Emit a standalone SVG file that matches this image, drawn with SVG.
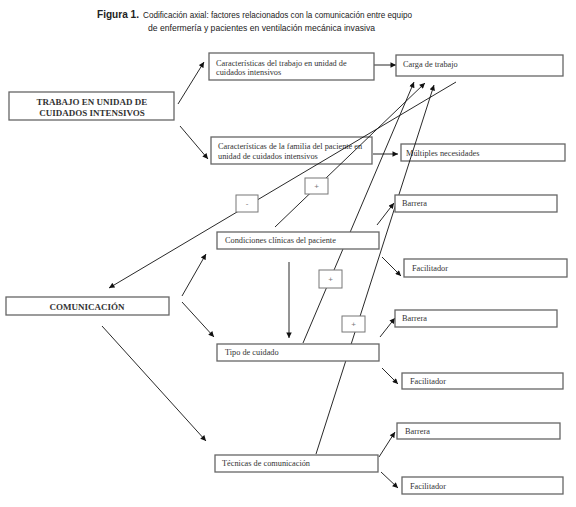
<svg xmlns="http://www.w3.org/2000/svg" width="576" height="507" viewBox="0 0 576 507">
<style>
.bx{fill:#fff;stroke:#666;stroke-width:1.3}
.bt{fill:none;stroke:#666;stroke-width:1.3}
.sg{fill:#fff;stroke:#777;stroke-width:1}
.t{font-family:"Liberation Serif","Times New Roman",serif;font-size:8.3px;fill:#333}
.tb{font-family:"Liberation Serif","Times New Roman",serif;font-size:9px;font-weight:bold;fill:#333;text-anchor:middle}
.sgt{font-family:"Liberation Sans",Arial,sans-serif;font-size:8px;fill:#777;text-anchor:middle}
.ttl{font-family:"Liberation Sans",Arial,sans-serif;fill:#222}
.ln{fill:none;stroke:#111;stroke-width:0.9}
.ar{fill:none;stroke:#111;stroke-width:0.9;marker-end:url(#ah)}
</style>
<defs>
<marker id="ah" viewBox="0 0 10 10" refX="10" refY="5" markerWidth="7" markerHeight="5.5" orient="auto" markerUnits="userSpaceOnUse">
<path d="M0,0 L10,5 L0,10 z" fill="#111"/>
</marker>
</defs>
<rect width="576" height="507" fill="#fff"/>
<g id="title" class="ttl">
<text x="97" y="18" font-size="10.5" font-weight="bold" textLength="42" lengthAdjust="spacingAndGlyphs">Figura 1.</text>
<text x="143" y="18" font-size="9" textLength="269" lengthAdjust="spacingAndGlyphs">Codificación axial: factores relacionados con la comunicación entre equipo</text>
<text x="148" y="31" font-size="9" textLength="227" lengthAdjust="spacingAndGlyphs">de enfermería y pacientes en ventilación mecánica invasiva</text>
</g>
<g id="n-familia">
<rect class="bt" x="211" y="137" width="161" height="27"/>
<text class="t" x="218" y="149">Características de la familia del paciente en</text>
<text class="t" x="218" y="158.5">unidad de cuidados intensivos</text>
</g>
<g id="n-multiples">
<rect class="bt" x="401" y="144" width="164" height="17"/>
<text class="t" x="406" y="156">Múltiples necesidades</text>
</g>
<g id="connectors">
<line class="ar" x1="178" y1="104" x2="204" y2="62"/>
<line class="ar" x1="180" y1="126" x2="208" y2="159"/>
<line class="ar" x1="374" y1="65" x2="396" y2="65"/>
<line class="ar" x1="373" y1="154" x2="398" y2="154"/>
<line class="ar" x1="456" y1="82" x2="109" y2="288"/>
<line class="ar" x1="275" y1="227" x2="425" y2="83"/>
<line class="ar" x1="303" y1="343" x2="414" y2="82"/>
<line class="ar" x1="316" y1="454" x2="434" y2="85"/>
<line class="ar" x1="289" y1="262" x2="289" y2="338"/>
<line class="ar" x1="182" y1="296" x2="206" y2="254"/>
<line class="ar" x1="182" y1="302" x2="214" y2="337"/>
<line class="ar" x1="102" y1="326" x2="206" y2="441"/>
<line class="ar" x1="377" y1="225" x2="394" y2="203"/>
<line class="ar" x1="382" y1="257" x2="401" y2="276"/>
<line class="ar" x1="380" y1="337" x2="395" y2="318"/>
<line class="ar" x1="382" y1="368" x2="398" y2="384"/>
<line class="ar" x1="379" y1="457" x2="395" y2="432"/>
<line class="ar" x1="381" y1="472" x2="398" y2="488"/>
</g>
<g id="n-trabajo-uci">
<rect class="bx" x="9" y="92" width="165" height="28"/>
<text class="tb" x="92" y="105">TRABAJO EN UNIDAD DE</text>
<text class="tb" x="92" y="116">CUIDADOS INTENSIVOS</text>
</g>
<g id="n-carac-trabajo">
<rect class="bx" x="209" y="53" width="165" height="27"/>
<text class="t" x="216" y="65.5">Características del trabajo en unidad de</text>
<text class="t" x="216" y="75">cuidados intensivos</text>
</g>
<g id="n-carga">
<rect class="bx" x="396" y="55" width="167" height="21"/>
<text class="t" x="403" y="67">Carga de trabajo</text>
</g>
<g id="n-comunicacion">
<rect class="bx" x="6" y="297" width="163" height="18"/>
<text class="tb" x="87" y="310">COMUNICACIÓN</text>
</g>
<g id="n-condiciones">
<rect class="bx" x="217" y="232" width="162" height="17"/>
<text class="t" x="225" y="243">Condiciones clínicas del paciente</text>
</g>
<g id="n-tipo">
<rect class="bx" x="217" y="344" width="162" height="17"/>
<text class="t" x="225" y="355">Tipo de cuidado</text>
</g>
<g id="n-tecnicas">
<rect class="bx" x="215" y="455" width="163" height="17"/>
<text class="t" x="222" y="466">Técnicas de comunicación</text>
</g>
<g id="n-barrera1">
<rect class="bx" x="395" y="195" width="162" height="17"/>
<text class="t" x="402" y="206">Barrera</text>
</g>
<g id="n-facilitador1">
<rect class="bx" x="404" y="259" width="163" height="18"/>
<text class="t" x="412" y="271">Facilitador</text>
</g>
<g id="n-barrera2">
<rect class="bx" x="395" y="310" width="162" height="17"/>
<text class="t" x="402" y="321">Barrera</text>
</g>
<g id="n-facilitador2">
<rect class="bx" x="402" y="373" width="161" height="16"/>
<text class="t" x="410" y="384">Facilitador</text>
</g>
<g id="n-barrera3">
<rect class="bx" x="397" y="423" width="163" height="16"/>
<text class="t" x="405" y="434">Barrera</text>
</g>
<g id="n-facilitador3">
<rect class="bx" x="402" y="477" width="161" height="17"/>
<text class="t" x="410" y="489">Facilitador</text>
</g>
<g id="n-menos">
<rect class="sg" x="236" y="195" width="22" height="17"/>
<text class="sgt" x="247" y="206">-</text>
</g>
<g id="n-mas1">
<rect class="sg" x="305" y="178" width="23" height="16"/>
<text class="sgt" x="316.5" y="189">+</text>
</g>
<g id="n-mas2">
<rect class="sg" x="319" y="270" width="23" height="18"/>
<text class="sgt" x="330.5" y="282">+</text>
</g>
<g id="n-mas3">
<rect class="sg" x="342" y="316" width="23" height="16"/>
<text class="sgt" x="353.5" y="327">+</text>
</g>
</svg>
